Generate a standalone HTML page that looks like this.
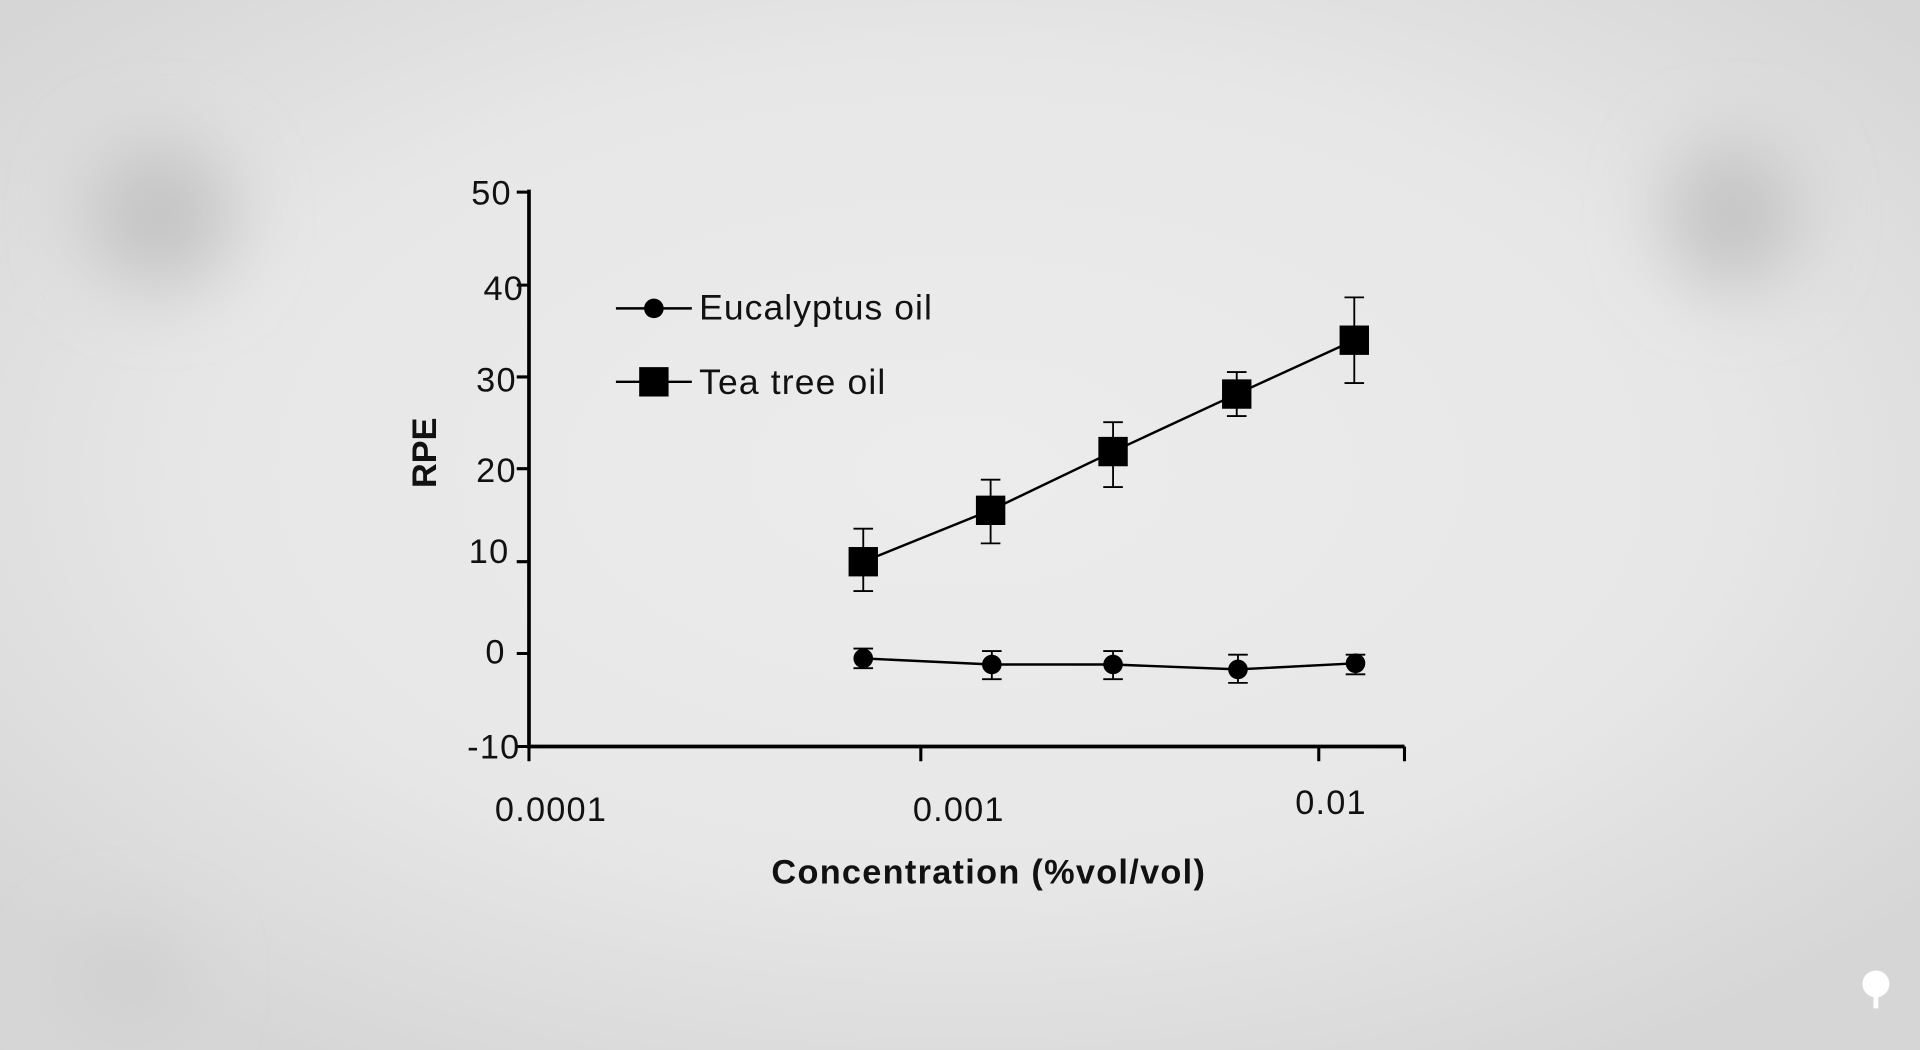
<!DOCTYPE html>
<html><head><meta charset="utf-8"><style>
html,body{margin:0;padding:0;width:1920px;height:1050px;overflow:hidden;background:#e6e6e6}
svg{display:block}
text{font-family:"Liberation Sans",sans-serif;fill:#111}
</style></head><body>
<svg width="1920" height="1050" viewBox="0 0 1568 858" preserveAspectRatio="none" xmlns="http://www.w3.org/2000/svg">
<defs>
<radialGradient id="bg" cx="50%" cy="45%" r="65%">
<stop offset="0" stop-color="#ececec"/>
<stop offset="0.6" stop-color="#e7e7e7"/>
<stop offset="1" stop-color="#d6d6d6"/>
</radialGradient>
<filter id="bl" x="-200%" y="-200%" width="500%" height="500%"><feGaussianBlur stdDeviation="30"/></filter>
</defs>
<rect width="1568" height="858" fill="url(#bg)"/>
<ellipse cx="130" cy="175" rx="60" ry="60" fill="#c4c4c4" filter="url(#bl)"/>
<ellipse cx="1415" cy="175" rx="55" ry="60" fill="#c4c4c4" filter="url(#bl)"/>
<ellipse cx="105" cy="800" rx="50" ry="40" fill="#d0d0d0" filter="url(#bl)"/>
<g stroke="#000" fill="none">
<path d="M432 155 V610 H1147" stroke-width="3"/>
<g stroke-width="2.5">
<path d="M422 157H432M422 233H432M422 308H432M422 383H432M422 459H432M422 534H432M422 610H432"/>
<path d="M432 610V622M752 610V622M1077 610V622M1147 610V622"/>
</g>
<polyline points="705,459 809,417 909,369 1010,322 1106,278" stroke-width="2"/>
<polyline points="705,538 810,543 909,543 1011,547 1107,542" stroke-width="2"/>
<g stroke-width="1.5">
<path d="M705 432V483M697 432H713M697 483H713"/>
<path d="M809 392V444M801 392H817M801 444H817"/>
<path d="M909 345V398M901 345H917M901 398H917"/>
<path d="M1010 304V340M1002 304H1018M1002 340H1018"/>
<path d="M1106 243V313M1098 243H1114M1098 313H1114"/>
<path d="M705 530V546M697 530H713M697 546H713"/>
<path d="M810 532V555M802 532H818M802 555H818"/>
<path d="M909 532V555M901 532H917M901 555H917"/>
<path d="M1011 535V558M1003 535H1019M1003 558H1019"/>
<path d="M1107 535V551M1099 535H1115M1099 551H1115"/>
</g>
<path d="M503 252H565M503 312H565" stroke-width="2"/>
</g>
<g fill="#000">
<rect x="693" y="447" width="24" height="24"/>
<rect x="797" y="405" width="24" height="24"/>
<rect x="897" y="357" width="24" height="24"/>
<rect x="998" y="310" width="24" height="24"/>
<rect x="1094" y="266" width="24" height="24"/>
<circle cx="705" cy="538" r="8"/>
<circle cx="810" cy="543" r="8"/>
<circle cx="909" cy="543" r="8"/>
<circle cx="1011" cy="547" r="8"/>
<circle cx="1107" cy="542" r="8"/>
<circle cx="534" cy="252" r="8"/>
<rect x="522" y="300" width="24" height="24"/>
</g>
<g font-size="28" text-anchor="end" letter-spacing="1">
<text x="418" y="167">50</text>
<text x="428" y="245">40</text>
<text x="422" y="320">30</text>
<text x="422" y="394">20</text>
<text x="416" y="460">10</text>
<text x="413" y="542">0</text>
<text x="425" y="620">-10</text>
</g>
<g font-size="28" text-anchor="middle" letter-spacing="1">
<text x="450" y="671">0.0001</text>
<text x="783" y="671">0.001</text>
<text x="1087" y="665">0.01</text>
</g>
<text x="571" y="261" font-size="29" textLength="190">Eucalyptus oil</text>
<text x="571" y="322" font-size="29" textLength="152">Tea tree oil</text>
<text x="807" y="722" font-size="28" font-weight="bold" text-anchor="middle" textLength="354">Concentration (%vol/vol)</text>
<text transform="translate(356,370) rotate(-90)" font-size="28" font-weight="bold" text-anchor="middle">RPE</text>
<g fill="#fff"><circle cx="1532" cy="804" r="11"/><rect x="1530" y="808" width="4" height="16"/></g>
</svg>
</body></html>
